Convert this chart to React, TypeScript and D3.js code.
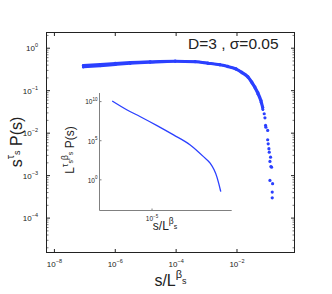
import React from "react";
import * as d3 from "d3";

// main panel: s/L^beta_s  vs  s^tau_s P(s), two overlapping system sizes
const bandS = [8.9e-8, 3.2e-7, 1.0e-6, 3.1e-6, 1.4e-5, 9.3e-5, 4.2e-4, 1.1e-3, 2.75e-3, 5.0e-3, 9.3e-3, 1.45e-2, 2.3e-2, 3.1e-2, 3.9e-2, 4.9e-2, 6.2e-2, 7.1e-2];
const upperP = [0.395, 0.418, 0.443, 0.465, 0.485, 0.50, 0.487, 0.45, 0.412, 0.376, 0.329, 0.273, 0.215, 0.161, 0.123, 0.090, 0.059, 0.040];
const lowerP = [0.36, 0.384, 0.41, 0.436, 0.463, 0.488, 0.476, 0.439, 0.402, 0.366, 0.319, 0.263, 0.205, 0.151, 0.115, 0.082, 0.053, 0.036];

// scattered tail near the cutoff
const tailS = [0.0785, 0.083, 0.087, 0.089, 0.102, 0.102, 0.106, 0.112, 0.115, 0.121, 0.127, 0.130, 0.137, 0.121, 0.148, 0.144, 0.144];
const tailP = [0.0286, 0.023, 0.0152, 0.0138, 0.0116, 0.007, 0.0056, 0.0043, 0.00357, 0.00216, 0.00272, 0.00164, 0.00158, 0.00077, 0.000645, 0.00041, 0.0003];

// inset: unscaled L^(tau beta) P(s)
const insetS = [6.0e-8, 4.1e-7, 2.24e-6, 1.9e-5, 1.58e-4, 1.35e-3, 7.4e-3, 1.74e-2, 2.9e-2, 4.1e-2, 5.2e-2, 6.8e-2];
const insetP = [1.2e10, 8.5e8, 1.17e8, 8.5e6, 5.5e5, 2.9e4, 930, 135, 19, 2.6, 0.38, 0.032];

const yTickExp = [0, -1, -2, -3, -4];
const xTickExp = [-8, -6, -4, -2];
const insetYExp = [10, 5, 0];
const insetXExp = [-5];

const blue = "#2b40ff";
const ink = "#222";
const font = "'Liberation Sans', Arial, sans-serif";

const L = 46.5, R = 294.5, T = 32.5, B = 252.5;

export default function App() {
  const x = d3.scaleLog().domain([10 ** -8.26, 10 ** -0.11]).range([L, R]);
  const y = d3.scaleLog().domain([10 ** -4.81, 10 ** 0.37]).range([B, T]);

  const ix = d3.scaleLog().domain([10 ** -7.93, 10 ** -0.556]).range([99.5, 231.7]);
  const iy = d3.scaleLog().domain([10 ** -3.92, 10 ** 11.1]).range([210.5, 93]);

  const line = d3
    .line<[number, number]>()
    .x((d) => x(d[0]))
    .y((d) => y(d[1]))
    .curve(d3.curveMonotoneX);

  const insetLine = d3
    .line<[number, number]>()
    .x((d) => ix(d[0]))
    .y((d) => iy(d[1]))
    .curve(d3.curveMonotoneX);

  const series = [upperP, lowerP].map((ps) => bandS.map((s, i) => [s, ps[i]] as [number, number]));

  // minor ticks 2..9 per decade on the y axis
  const minorY: number[] = [];
  for (let k = -5; k <= 0; k++) {
    for (let m = 2; m <= 9; m++) {
      const v = m * 10 ** k;
      if (v > y.domain()[0] && v < y.domain()[1]) minorY.push(v);
    }
  }

  return (
    <svg
      width={332}
      height={294}
      style={{ position: "absolute", left: 0, top: 0, background: "#fff" }}
      fontFamily={font}
    >
      {/* data */}
      {series.map((d, i) => (
        <g key={i}>
          <path d={line(d) || ""} fill="none" stroke={blue} strokeWidth={2.6} strokeLinecap="round" />
          {d.map((p, j) => (
            <circle key={j} cx={x(p[0])} cy={y(p[1])} r={1.4} fill={blue} />
          ))}
        </g>
      ))}
      {tailS.map((s, i) => (
        <circle key={i} cx={x(s)} cy={y(tailP[i])} r={1.6} fill={blue} />
      ))}

      {/* main box */}
      <rect x={L} y={T} width={R - L} height={B - T} fill="none" stroke={ink} strokeWidth={1} />
      {yTickExp.map((e) => (
        <g key={e}>
          <line x1={L} x2={L + 3.5} y1={y(10 ** e)} y2={y(10 ** e)} stroke={ink} />
          <line x1={R} x2={R - 3.5} y1={y(10 ** e)} y2={y(10 ** e)} stroke={ink} />
          <text x={38} y={y(10 ** e) + 3} textAnchor="end" fontSize={8} fill={ink}>
            10<tspan fontSize={5.5} dy={-4}>{e === 0 ? "0" : "\u2212" + -e}</tspan>
          </text>
        </g>
      ))}
      {minorY.map((v, i) => (
        <g key={i}>
          <line x1={L} x2={L + 2} y1={y(v)} y2={y(v)} stroke={ink} strokeWidth={0.6} />
          <line x1={R} x2={R - 2} y1={y(v)} y2={y(v)} stroke={ink} strokeWidth={0.6} />
        </g>
      ))}
      {xTickExp.map((e) => (
        <g key={e}>
          <line x1={x(10 ** e)} x2={x(10 ** e)} y1={B} y2={B - 3.5} stroke={ink} />
          <line x1={x(10 ** e)} x2={x(10 ** e)} y1={T} y2={T + 3.5} stroke={ink} />
          <text x={x(10 ** e)} y={266.5} textAnchor="middle" fontSize={8} fill={ink}>
            10<tspan fontSize={5.5} dy={-4}>{"\u2212" + -e}</tspan>
          </text>
        </g>
      ))}

      {/* main labels */}
      <text x={170.5} y={286} textAnchor="middle" fontSize={16} fill={ink}>
        s/L<tspan fontSize={11} dy={-8}>β</tspan>
        <tspan fontSize={9} dy={6}>s</tspan>
      </text>
      <text transform="translate(22,142) rotate(-90)" textAnchor="middle" fontSize={16} fill={ink}>
        s<tspan fontSize={11} dy={-8}>τ</tspan>
        <tspan fontSize={9} dy={6}>s</tspan>
        <tspan dy={2}> P(s)</tspan>
      </text>
      <text x={188} y={49} fontSize={15.5} fill={ink}>
        D=3 , σ=0.05
      </text>

      {/* inset */}
      <path d={insetLine(insetS.map((s, i) => [s, insetP[i]] as [number, number])) || ""} fill="none" stroke={blue} strokeWidth={1.3} />
      <line x1={99.5} x2={99.5} y1={93} y2={210.5} stroke="#808080" />
      <line x1={99.5} x2={231.7} y1={210.5} y2={210.5} stroke="#808080" />
      {insetYExp.map((e) => (
        <g key={e}>
          <line x1={99.5} x2={101.5} y1={iy(10 ** e)} y2={iy(10 ** e)} stroke="#808080" />
          <text x={97.5} y={iy(10 ** e) + 2.8} textAnchor="end" fontSize={6.5} fill={ink}>
            10<tspan fontSize={4.5} dy={-3.2}>{String(e)}</tspan>
          </text>
        </g>
      ))}
      {insetXExp.map((e) => (
        <g key={e}>
          <line x1={ix(10 ** e)} x2={ix(10 ** e)} y1={210.5} y2={208.5} stroke="#808080" />
          <text x={ix(10 ** e)} y={221} textAnchor="middle" fontSize={6.5} fill={ink}>
            10<tspan fontSize={4.5} dy={-3.2}>{"\u2212" + -e}</tspan>
          </text>
        </g>
      ))}
      <text x={165} y={230} textAnchor="middle" fontSize={12} fill={ink}>
        s/L<tspan fontSize={8.5} dy={-6}>β</tspan>
        <tspan fontSize={7} dy={4.5}>s</tspan>
      </text>
      <text transform="translate(74,150) rotate(-90)" textAnchor="middle" fontSize={12} fill={ink}>
        L<tspan fontSize={8.5} dy={-6}>τ</tspan>
        <tspan fontSize={7} dy={4.5}>s</tspan>
        <tspan fontSize={8.5} dy={-4.5}>β</tspan>
        <tspan fontSize={7} dy={4.5}>s</tspan>
        <tspan dy={1.5}> P(s)</tspan>
      </text>
    </svg>
  );
}
